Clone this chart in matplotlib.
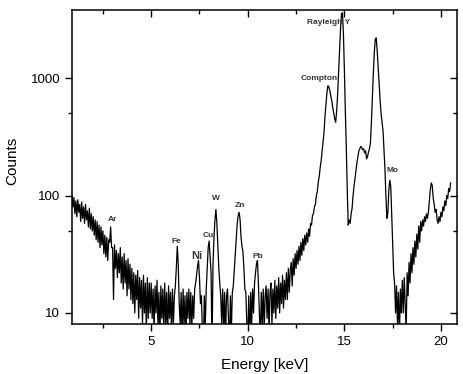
import numpy as np
import matplotlib.pyplot as plt
from matplotlib.ticker import FixedLocator, NullFormatter

plt.rcParams['font.family'] = ['Liberation Sans', 'DejaVu Sans']

# counts per 0.05 keV channel, starting at 0.90 keV
counts = [
    100, 80,
    96, 70, 90, 66, 92, 72, 84, 60, 88, 64, 80, 58, 84, 62, 74, 54, 78, 52, 70, 50,
    66, 46, 62, 42, 60, 40, 56, 36, 54, 38, 50, 32, 46, 30, 44, 28, 42, 40, 54, 36,
    36, 13, 38, 24, 34, 20, 32, 22, 36, 18, 30, 16, 32, 18, 28, 14, 29, 16, 26, 13,
    24, 12, 22, 10, 21, 13, 23, 9, 20, 11, 19, 8, 21, 10, 18, 7, 20, 9, 18, 10,
    18, 9, 16, 7, 17, 10, 19, 8, 15, 6, 17, 9, 16, 7, 18, 8, 15, 6, 17, 9,
    15, 7, 16, 8, 14, 17, 24, 37, 26, 12, 8, 15, 6, 16, 8, 14, 6, 15, 9, 16,
    8, 15, 7, 14, 9, 16, 18, 21, 25, 28, 20, 12, 14, 7, 5, 14, 8, 16, 24, 36,
    41, 30, 22, 5, 26, 44, 62, 76, 58, 38, 24, 18, 14, 8, 16, 7, 15, 6, 14, 16,
    9, 5, 14, 7, 15, 17, 23, 31, 43, 57, 67, 72, 63, 44, 37, 33, 24, 16, 15, 8,
    6, 14, 5, 15, 8, 16, 10, 18, 22, 26, 28, 18, 10, 6, 15, 8, 16, 7, 14, 17,
    9, 16, 7, 15, 18, 8, 16, 10, 19, 9, 17, 11, 20, 10, 18, 12, 21, 11, 19, 13,
    22, 13, 24, 15, 23, 27, 17, 29, 21, 32, 24, 34, 26, 37, 28, 40, 31, 43, 34, 46,
    38, 48, 40, 52, 45, 58, 56, 68, 70, 80, 84, 100, 108, 130, 146, 174, 198, 242, 288, 352,
    480, 600, 760, 860, 840, 780, 700, 640, 560, 500, 450, 420, 520, 720, 1100, 1700, 2600, 3500, 3600, 2400,
    1200, 520, 260, 110, 56, 62, 58, 70, 78, 100, 120, 140, 165, 190, 215, 240, 250, 262, 255, 245,
    250, 230, 240, 205, 215, 235, 250, 280, 420, 680, 1100, 1650, 2150, 2200, 1700, 1250, 900, 650, 500, 420,
    360, 250, 170, 100, 64, 70, 110, 135, 120, 70, 38, 22, 18, 10, 17, 8, 15, 6, 16, 10,
    19, 10, 20, 12, 7, 22, 14, 27, 18, 32, 22, 36, 26, 41, 30, 47, 35, 55, 40, 60,
    50, 62, 55, 66, 60, 70, 64, 72, 90, 112, 128, 122, 95, 84, 72, 76, 62, 58, 66, 60,
    72, 66, 80, 74, 90, 82, 100, 94, 115, 108, 128,
]
energy = 0.90 + 0.05 * np.arange(len(counts))

labels = ['Ar', 'Fe', 'Ni', 'Cu', 'W', 'Zn', 'Pb', 'Compton', 'Rayleigh Y', 'Mo']
label_e = [2.98, 6.29, 7.38, 7.95, 8.36, 9.6, 10.53, 13.69, 14.16, 17.47]
label_c = [63, 41, 30.5, 46, 95, 83, 30.5, 1000, 3000, 162]

fig = plt.figure(figsize=(4.63, 3.74), dpi=100)
ax = fig.add_axes([0.1555, 0.1337, 0.8315, 0.8396])
ax.plot(energy, counts, color='black', lw=0.9)
ax.set_yscale('log')
ax.set_xlim(0.9, 20.83)
ax.set_ylim(8.06, 3800)

ax.xaxis.set_major_locator(FixedLocator([5, 10, 15, 20]))
ax.xaxis.set_minor_locator(FixedLocator([2.5, 7.5, 12.5, 17.5]))
ax.yaxis.set_major_locator(FixedLocator([10, 100, 1000]))
ax.yaxis.set_minor_locator(FixedLocator([50, 500]))
ax.yaxis.set_minor_formatter(NullFormatter())
ax.set_yticklabels(['10', '100', '1000'])

ax.tick_params(axis='both', which='major', labelsize=9.5, length=5, width=1)
ax.tick_params(axis='both', which='minor', length=3, width=1)
ax.tick_params(top=True, right=True, which='both')
ax.tick_params(axis='x', which='both', direction='out')
ax.tick_params(axis='y', which='both', direction='out')
for t in ax.xaxis.get_major_ticks() + ax.xaxis.get_minor_ticks():
    t.tick2line.set_marker(3)
for t in ax.yaxis.get_major_ticks() + ax.yaxis.get_minor_ticks():
    t.tick2line.set_marker(0)
for s in ax.spines.values():
    s.set_linewidth(1.1)

ax.set_xlabel('Energy [keV]', fontsize=11, labelpad=7)
ax.set_ylabel('Counts', fontsize=11)
ax.yaxis.set_label_coords(-0.138, 0.52)

for lab, e, c in zip(labels, label_e, label_c):
    size = 8 if lab == 'Ni' else 6
    ax.text(e, c, lab, fontsize=size, fontweight='bold', color='#333333',
            ha='center', va='center')

fig.savefig('out.png', dpi=100)
